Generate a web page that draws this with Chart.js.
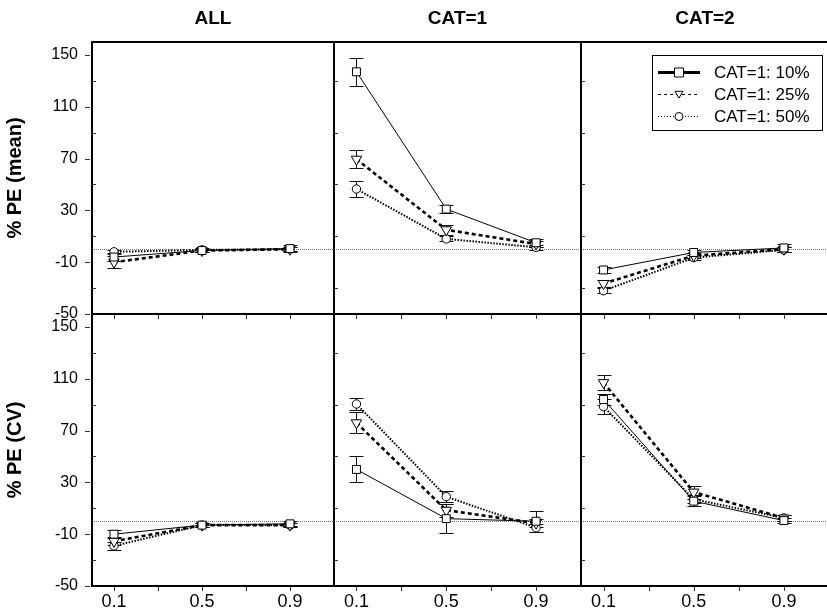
<!DOCTYPE html>
<html>
<head>
<meta charset="utf-8">
<title>% PE by quantile</title>
<script src="https://cdn.jsdelivr.net/npm/chart.js"></script>
<style>
  html, body { margin: 0; padding: 0; background: #fff; overflow: hidden; }
  body { width: 827px; height: 616px; position: relative; }
  canvas { position: absolute; }
</style>
</head>
<body>
<canvas id="c10" width="334" height="328" style="left:0;top:288px"></canvas>
<canvas id="c11" width="247" height="328" style="left:334px;top:288px"></canvas>
<canvas id="c12" width="248" height="328" style="left:581px;top:288px"></canvas>
<canvas id="c00" width="334" height="340" style="left:0;top:0"></canvas>
<canvas id="c01" width="247" height="340" style="left:334px;top:0"></canvas>
<canvas id="c02" width="248" height="340" style="left:581px;top:0"></canvas>
<script>
// x positions (quantile) and axis ticks
const xLevels = [0.1, 0.5, 0.9];
const xTickLabels = [0.1, 0.5, 0.9];
const xTickMarks = [0.1, 0.3, 0.5, 0.7, 0.9];
const yTicks = [-50, -10, 30, 70, 110, 150];
const yMinorTicks = [-30, 10, 50, 90, 130];
const seriesLabels = ['CAT=1: 10%', 'CAT=1: 25%', 'CAT=1: 50%'];
const panelTitles = ['ALL', 'CAT=1', 'CAT=2'];
const rowTitles = ['% PE (mean)', '% PE (CV)'];

// % PE (mean)
const meanAll10 = [-6, -1, 0.5];
const meanAll25 = [-10, -1, 0];
const meanAll50 = [-2, -0.5, 0];
const meanAll10Err = [3, 1.5, 3];
const meanAll25Err = [4.5, 1.5, 1.5];
const meanAll50Err = [1.5, 1.5, 1.5];

const meanCat1_10 = [137, 31, 5];
const meanCat1_25 = [69.5, 15, 4];
const meanCat1_50 = [46.5, 8, 1.5];
const meanCat1_10Err = [11, 3, 3];
const meanCat1_25Err = [7, 4, 2];
const meanCat1_50Err = [6, 2, 2];

const meanCat2_10 = [-16, -2.5, 1];
const meanCat2_25 = [-26.5, -5, 0];
const meanCat2_50 = [-32, -6.5, -0.5];
const meanCat2_10Err = [2, 2, 3];
const meanCat2_25Err = [2.5, 2, 2];
const meanCat2_50Err = [2, 2, 2];

// % PE (CV)
const cvAll10 = [-10, -3, -2];
const cvAll25 = [-15.5, -3, -3];
const cvAll50 = [-19, -3, -3];
const cvAll10Err = [3, 1.5, 2];
const cvAll25Err = [3, 1.5, 1.5];
const cvAll50Err = [3, 1.5, 1.5];

const cvCat1_10 = [40, 2, 0];
const cvCat1_25 = [76, 8.5, -1.5];
const cvCat1_50 = [90.5, 19, -5];
const cvCat1_10Err = [10, 11, 8];
const cvCat1_25Err = [8, 5, 3];
const cvCat1_50Err = [5, 4, 3];

const cvCat2_10 = [94, 15.5, 0.5];
const cvCat2_25 = [107, 22.5, 2.5];
const cvCat2_50 = [88.5, 17, 2.5];
const cvCat2_10Err = [4, 4, 2];
const cvCat2_25Err = [6, 5, 2];
const cvCat2_50Err = [6, 3, 2];

const panels = [
  { id: 'c00', row: 0, col: 0, series: [meanAll10, meanAll25, meanAll50], errs: [meanAll10Err, meanAll25Err, meanAll50Err] },
  { id: 'c01', row: 0, col: 1, series: [meanCat1_10, meanCat1_25, meanCat1_50], errs: [meanCat1_10Err, meanCat1_25Err, meanCat1_50Err] },
  { id: 'c02', row: 0, col: 2, series: [meanCat2_10, meanCat2_25, meanCat2_50], errs: [meanCat2_10Err, meanCat2_25Err, meanCat2_50Err] },
  { id: 'c10', row: 1, col: 0, series: [cvAll10, cvAll25, cvAll50], errs: [cvAll10Err, cvAll25Err, cvAll50Err] },
  { id: 'c11', row: 1, col: 1, series: [cvCat1_10, cvCat1_25, cvCat1_50], errs: [cvCat1_10Err, cvCat1_25Err, cvCat1_50Err] },
  { id: 'c12', row: 1, col: 2, series: [cvCat2_10, cvCat2_25, cvCat2_50], errs: [cvCat2_10Err, cvCat2_25Err, cvCat2_50Err] }
];

const seriesStyles = [
  { borderWidth: 1, borderDash: [], pointStyle: 'rect', pointRadius: 5.6, pointRotation: 0 },
  { borderWidth: 2.6, borderDash: [4, 3], pointStyle: 'triangle', pointRadius: 6, pointRotation: 180 },
  { borderWidth: 2, borderDash: [1.5, 1.5], pointStyle: 'circle', pointRadius: 4.2, pointRotation: 0 }
];
const legendStyles = [
  { lw: 3, dash: [] },
  { lw: 1, dash: [3, 3] },
  { lw: 1, dash: [1, 2] }
];

Chart.defaults.font.family = "'Liberation Sans', Arial, Helvetica, sans-serif";
Chart.defaults.color = '#000';

function drawMarker(ctx, style, x, y, r) {
  ctx.beginPath();
  if (style === 'rect') {
    ctx.rect(x - r, y - r, 2 * r, 2 * r);
  } else if (style === 'triangle') {
    ctx.moveTo(x - r, y - r * 0.8);
    ctx.lineTo(x + r, y - r * 0.8);
    ctx.lineTo(x, y + r * 0.9);
    ctx.closePath();
  } else {
    ctx.arc(x, y, r, 0, Math.PI * 2);
  }
  ctx.fillStyle = '#fff';
  ctx.fill();
  ctx.stroke();
}

const panelFrame = {
  id: 'panelFrame',
  beforeDatasetsDraw(chart) {
    const { ctx, chartArea: a, scales: { x, y } } = chart;
    ctx.save();
    // dotted zero line
    const y0 = Math.round(y.getPixelForValue(0)) + 0.5;
    ctx.strokeStyle = '#777';
    ctx.lineWidth = 1;
    ctx.setLineDash([1, 1]);
    ctx.beginPath();
    ctx.moveTo(a.left, y0);
    ctx.lineTo(a.right, y0);
    ctx.stroke();
    ctx.setLineDash([]);
    // tick marks
    ctx.strokeStyle = '#333';
    ctx.beginPath();
    yTicks.forEach(v => {
      const py = Math.round(y.getPixelForValue(v)) + 0.5;
      ctx.moveTo(a.left - 7, py);
      ctx.lineTo(a.left - 2, py);
    });
    yMinorTicks.forEach(v => {
      const py = Math.round(y.getPixelForValue(v)) + 0.5;
      ctx.moveTo(a.left + 1, py);
      ctx.lineTo(a.left + 4, py);
    });
    xTickMarks.forEach(v => {
      const px = Math.round(x.getPixelForValue(v)) + 0.5;
      ctx.moveTo(px, a.bottom + 1);
      ctx.lineTo(px, a.bottom + 5);
    });
    ctx.stroke();
    ctx.restore();
  },
  afterDraw(chart) {
    const { ctx, chartArea: a } = chart;
    ctx.save();
    ctx.strokeStyle = '#000';
    ctx.lineWidth = 2;
    ctx.strokeRect(a.left, a.top, a.right - a.left, a.bottom - a.top);
    ctx.restore();
  }
};

const errorBars = {
  id: 'errorBars',
  beforeDatasetsDraw(chart) {
    const { ctx, scales: { y } } = chart;
    ctx.save();
    ctx.strokeStyle = '#111';
    ctx.lineWidth = 1;
    chart.data.datasets.forEach((ds, d) => {
      const meta = chart.getDatasetMeta(d);
      ds.errors.forEach((e, i) => {
        const v = ds.data[i].y;
        const px = Math.round(meta.data[i].x) + 0.5;
        const top = Math.round(y.getPixelForValue(v + e)) + 0.5;
        const bot = Math.round(y.getPixelForValue(v - e)) + 0.5;
        ctx.beginPath();
        ctx.moveTo(px, top);
        ctx.lineTo(px, bot);
        ctx.moveTo(px - 7, top);
        ctx.lineTo(px + 7, top);
        ctx.moveTo(px - 7, bot);
        ctx.lineTo(px + 7, bot);
        ctx.stroke();
      });
    });
    ctx.restore();
  }
};

const panelLegend = {
  id: 'panelLegend',
  afterDraw(chart) {
    const { ctx, chartArea: a } = chart;
    const w = 170, h = 75;
    const bx = Math.round(a.right - 7 - w), by = Math.round(a.top + 13);
    ctx.save();
    ctx.fillStyle = '#fff';
    ctx.fillRect(bx, by, w, h);
    ctx.strokeStyle = '#000';
    ctx.lineWidth = 1;
    ctx.strokeRect(bx + 0.5, by + 0.5, w, h);
    chart.data.datasets.forEach((ds, i) => {
      const cy = by + 17 + i * 22;
      const st = legendStyles[i];
      ctx.strokeStyle = '#000';
      ctx.lineWidth = st.lw;
      ctx.setLineDash(st.dash);
      ctx.beginPath();
      ctx.moveTo(bx + 6, cy + 0.5);
      ctx.lineTo(bx + 48, cy + 0.5);
      ctx.stroke();
      ctx.setLineDash([]);
      ctx.lineWidth = 1;
      drawMarker(ctx, seriesStyles[i].pointStyle, bx + 27, cy + 0.5, i === 0 ? 4.5 : 4);
      ctx.fillStyle = '#000';
      ctx.font = "17px 'Liberation Sans', Arial, sans-serif";
      ctx.textBaseline = 'middle';
      ctx.fillText(ds.label, bx + 62, cy + 1);
    });
    ctx.restore();
  }
};

panels.forEach(p => {
  const datasets = p.series.map((vals, i) => ({
    label: seriesLabels[i],
    data: vals.map((v, k) => ({ x: xLevels[k], y: v })),
    errors: p.errs[i],
    borderColor: '#000',
    borderWidth: seriesStyles[i].borderWidth,
    borderDash: seriesStyles[i].borderDash,
    tension: 0,
    fill: false,
    pointStyle: seriesStyles[i].pointStyle,
    pointRadius: seriesStyles[i].pointRadius,
    pointRotation: seriesStyles[i].pointRotation,
    pointBackgroundColor: '#fff',
    pointBorderColor: '#000',
    pointBorderWidth: 1
  }));

  const plugins = [panelFrame, errorBars];
  if (p.row === 0 && p.col === 2) plugins.push(panelLegend);

  new Chart(document.getElementById(p.id), {
    type: 'line',
    data: { datasets },
    plugins,
    options: {
      responsive: false,
      animation: false,
      events: [],
      layout: {
        autoPadding: false,
        padding: p.row === 0 ? { top: 0, bottom: 26, left: 0, right: 0 } : { top: 26, bottom: 0, left: 0, right: 0 }
      },
      plugins: {
        legend: { display: false },
        tooltip: { enabled: false },
        title: {
          display: p.row === 0,
          text: panelTitles[p.col],
          fullSize: false,
          color: '#000',
          font: { size: 19, weight: 'bold' },
          padding: { top: 7, bottom: 12.2 }
        }
      },
      scales: {
        x: {
          type: 'linear',
          min: 0,
          max: 1.1,
          display: p.row === 1,
          grid: { display: false, drawTicks: false },
          border: { display: false },
          afterBuildTicks: s => { s.ticks = xTickLabels.map(v => ({ value: v })); },
          afterFit: s => { if (s.options.display) s.height = 30; },
          ticks: {
            autoSkip: false,
            maxRotation: 0,
            padding: 5,
            color: '#000',
            font: { size: 18, family: "'Liberation Sans Narrow', 'Liberation Sans', Arial, sans-serif" }
          }
        },
        y: {
          type: 'linear',
          min: -50,
          max: 160,
          display: p.col === 0,
          grid: { display: false, drawTicks: false },
          border: { display: false },
          afterBuildTicks: s => { s.ticks = yTicks.map(v => ({ value: v })); },
          afterFit: s => { if (s.options.display) s.width = 92; },
          ticks: { padding: 14, color: '#000', font: { size: 16 } },
          title: {
            display: true,
            text: rowTitles[p.row],
            color: '#000',
            font: { size: 20, weight: 'bold' },
            padding: { top: 3, bottom: 0 }
          }
        }
      }
    }
  });
});
</script>
</body>
</html>
